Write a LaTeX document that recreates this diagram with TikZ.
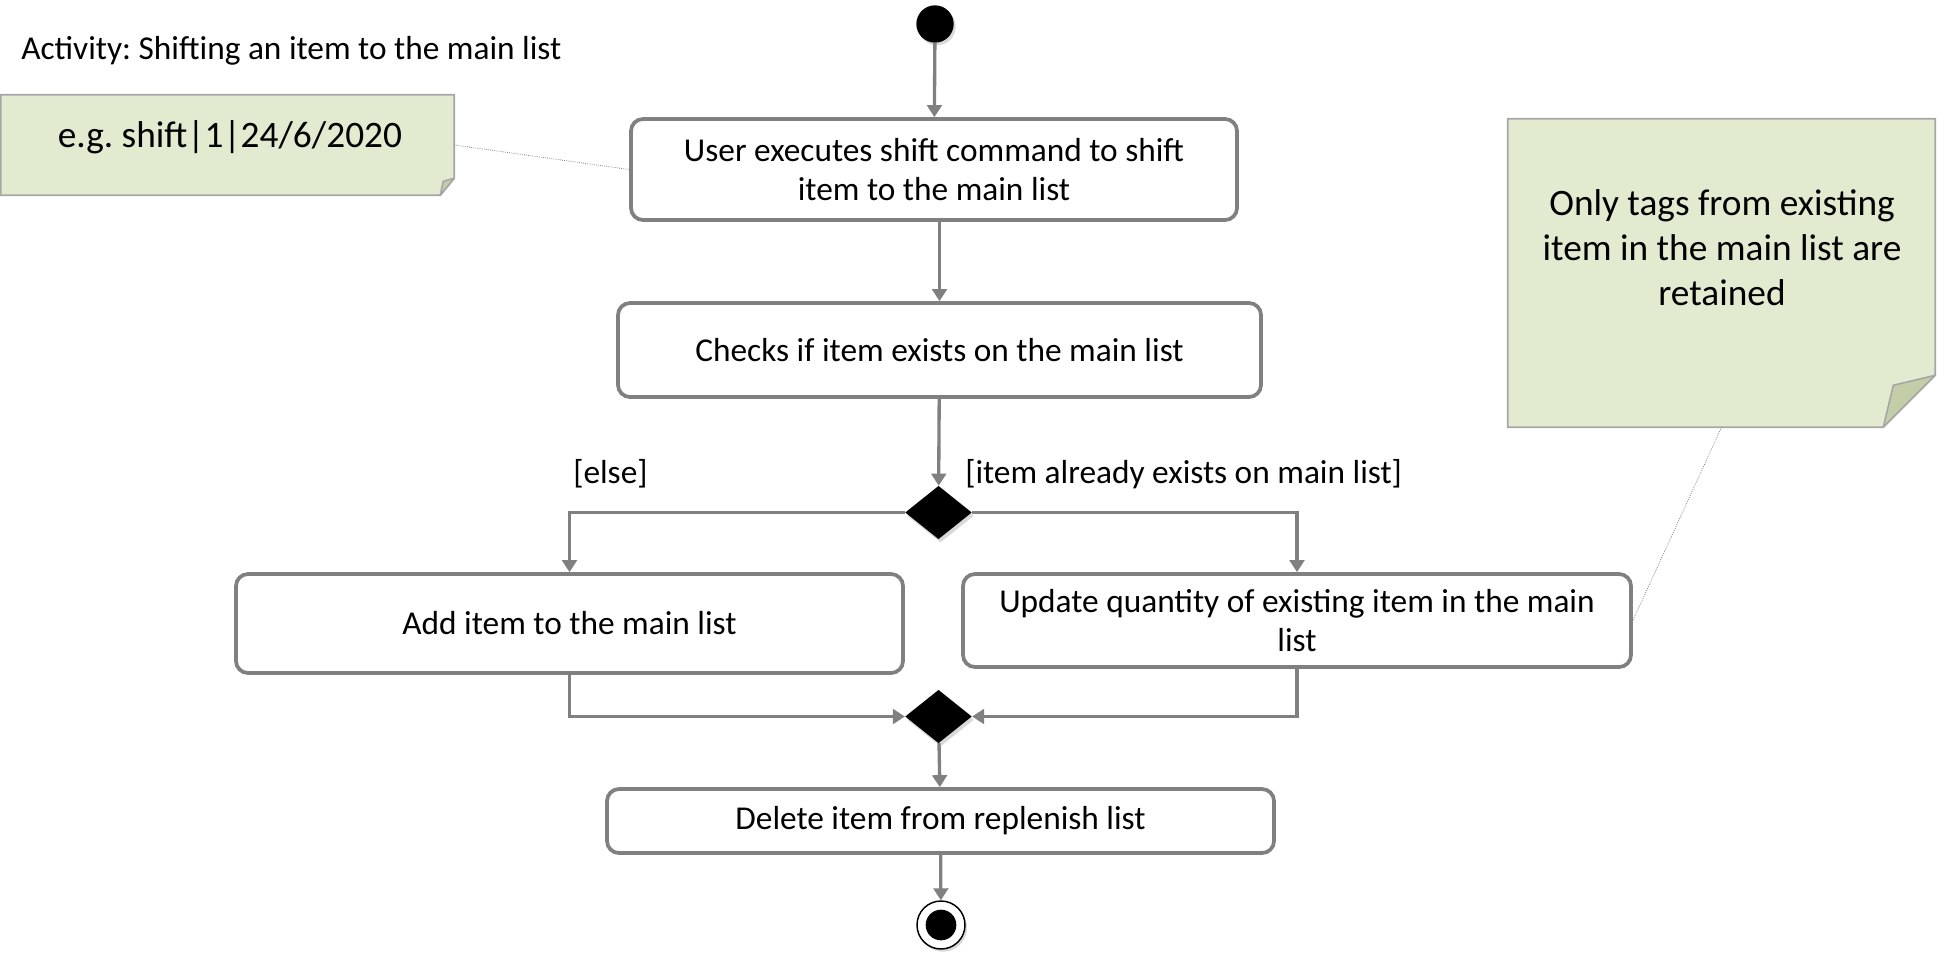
\documentclass[tikz,border=0pt]{standalone}
\usepackage{fontspec}
\setmainfont{Carlito}
\usepackage{tikz}
\usetikzlibrary{arrows.meta,shapes.geometric,shadows}
\frenchspacing

\definecolor{linegray}{HTML}{808080}
\definecolor{notegreen}{HTML}{E2EBD0}
\definecolor{notefold}{HTML}{C3CDA8}
\definecolor{noteedge}{HTML}{A6A6A6}

\begin{document}
\begin{tikzpicture}[x=0.75pt,y=-0.75pt,
  actbox/.style 2 args={draw=linegray, line width=2.8pt, rounded corners=9pt, fill=white,
    minimum width=#1*0.75pt, minimum height=#2*0.75pt, align=center,
    font=\fontsize{25}{29.6}\selectfont},
  decision/.style={diamond, fill=black, minimum width=50pt, minimum height=40pt,
    drop shadow={opacity=0.3, shadow xshift=1.5pt, shadow yshift=-2.5pt}},
  guard/.style={font=\fontsize{25}{30}\selectfont},
  flow/.style={draw=linegray, line width=2.5pt, -{Triangle[length=9pt,width=11pt]}},
  notebody/.style 2 args={minimum width=#1*0.75pt, minimum height=#2*0.75pt},
  notepaper/.style={fill=notegreen, draw=noteedge, line width=1.2pt},
  notecurl/.style={fill=notefold, draw=noteedge, line width=1.2pt, line join=round},
  notetext/.style={align=center, font=\fontsize{28}{33.75}\selectfont},
  notelink/.style={draw=gray, line width=0.6pt, densely dotted}]
\tikzstyle{every node}+=[inner sep=0pt]
\useasboundingbox (0,0) rectangle (1939,957);

% title
\node (title) [anchor=west, font=\fontsize{25}{30}\selectfont] at (21,51) {Activity: Shifting an item to the main list};

% start and end
\node (start) [circle, fill=black, minimum size=28pt,
  drop shadow={opacity=0.3, shadow xshift=1.5pt, shadow yshift=-2pt}] at (935,24) {};
\node (finish) [circle, draw=black, line width=1.1pt, fill=white, minimum size=36pt,
  drop shadow={opacity=0.3, shadow xshift=1.5pt, shadow yshift=-2pt}] at (941,925) {};
\node (finishdot) [circle, fill=black, minimum size=23pt] at (finish) {};

% actions
\node (shift) [actbox={606}{101}] at (934,169.5) {User executes shift command to shift\\item to the main list};
\node (check) [actbox={643}{94}] at (939.5,350) {Checks if item exists on the main list};
\node (add) [actbox={667}{99}] at (569.5,623.5) {Add item to the main list};
\node (update) [actbox={668}{93}] at (1297,620.5) {Update quantity of existing item in the main\\list};
\node (delete) [actbox={667}{64}] at (940.5,821) {Delete item from replenish list};

% decision and merge
\node (exists) [decision] at (938.5,512.5) {};
\node (merge) [decision] at (938.5,716.5) {};

% guards
\node (elseguard) [guard, anchor=west] at (573,474) {[else]};
\node (existsguard) [guard, anchor=west] at (965,474) {[item already exists on main list]};

% flows
\draw [flow] (start) -- (shift);
\draw [flow] (shift.south -| check.north) -- (check);
\draw [flow] (check) -- (exists);
\draw [flow] (exists.west) -| (add.north);
\draw [flow] (exists.east) -| (update.north);
\draw [flow] (add.south) |- (merge.west);
\draw [flow] (update.south) |- (merge.east);
\draw [flow] (merge) -- (delete);
\draw [flow] (delete) -- (finish);

% notes
\node (tagnote) [notebody={453}{100}] at (227.5,145) {};
\draw [notepaper] (tagnote.north west) -- (tagnote.north east) -- ([shift={(0,-17)}]tagnote.south east)
  -- ([shift={(-14,0)}]tagnote.south east) -- (tagnote.south west) -- cycle;
\draw [notecurl] ([shift={(0,-17)}]tagnote.south east) -- ([shift={(-11,-14)}]tagnote.south east)
  -- ([shift={(-14,0)}]tagnote.south east) -- cycle;
\node (tagnotetext) [notetext] at (230,137) {e.g. shift|1|24/6/2020};

\node (tagsnote) [notebody={427}{308}] at (1721.5,273) {};
\draw [notepaper] (tagsnote.north west) -- (tagsnote.north east) -- ([shift={(0,-52)}]tagsnote.south east)
  -- ([shift={(-52,0)}]tagsnote.south east) -- (tagsnote.south west) -- cycle;
\draw [notecurl] ([shift={(0,-52)}]tagsnote.south east) -- ([shift={(-42,-42)}]tagsnote.south east)
  -- ([shift={(-52,0)}]tagsnote.south east) -- cycle;
\node (tagsnotetext) [notetext] at (1722,248) {Only tags from existing\\item in the main list are\\retained};

\draw [notelink] (tagnote.east) -- (shift.west);
\draw [notelink] (tagsnote.south) -- (update.east);
\end{tikzpicture}
\end{document}
